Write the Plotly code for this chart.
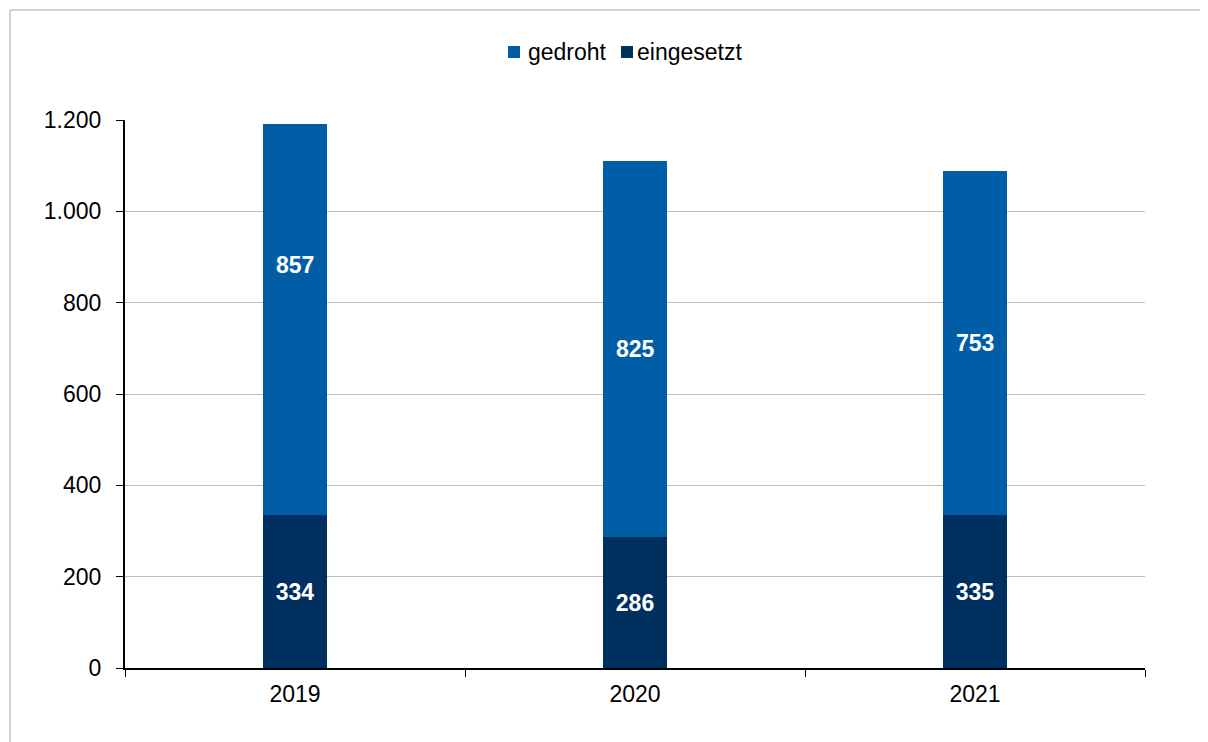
import plotly.graph_objects as go

years = ["2019", "2020", "2021"]
eingesetzt = [334, 286, 335]
gedroht = [857, 825, 753]
y_ticks = [0, 200, 400, 600, 800, 1000, 1200]
# vertical nudge of the "gedroht" value labels (data units), as in the original
gedroht_label_shift = [120, 0, 0]

c_gedroht = "#005DA6"
c_eingesetzt = "#00305F"
font_family = "Liberation Sans, Arial, sans-serif"
FS = 23

fig = go.Figure()
fig.add_trace(go.Bar(
    x=years, y=eingesetzt, name="eingesetzt", marker_color=c_eingesetzt,
    text=eingesetzt, textposition="inside", insidetextanchor="middle",
    textfont=dict(color="white", size=FS, family=font_family, weight="bold"),
    width=0.19, marker_line_width=0, showlegend=False,
))
fig.add_trace(go.Bar(
    x=years, y=gedroht, name="gedroht", marker_color=c_gedroht,
    textposition="none",
    width=0.19, marker_line_width=0, showlegend=False,
))

# page is offset by the 8px body margin
OFF = 8
W, H = 1208 - OFF, 742 - OFF
l, r, t, b = 125 - OFF, 63, 120 - OFF, 74
PL, PR, PT, PB = 125, 1145, 120, 668  # plot area in page pixels


def px_x(p):
    return (p - PL) / (PR - PL)


def px_y(p):
    return (PB - p) / (PB - PT)


shapes = [dict(
    type="rect", xref="paper", yref="paper",
    x0=px_x(10), y0=px_y(760), x1=px_x(1230), y1=px_y(10),
    line=dict(color="#A6A6A6", width=1), fillcolor="rgba(0,0,0,0)", layer="below",
)]
annotations = []
legend_items = [("gedroht", c_gedroht, 508, 526), ("eingesetzt", c_eingesetzt, 621, 635)]
for name, col, sx, tx in legend_items:
    shapes.append(dict(type="rect", xref="paper", yref="paper",
                       x0=px_x(sx), x1=px_x(sx + 12), y0=px_y(58), y1=px_y(46),
                       line=dict(width=0), fillcolor=col))
    annotations.append(dict(text=name, xref="paper", yref="paper", x=px_x(tx), y=px_y(52),
                            xanchor="left", yanchor="middle", showarrow=False,
                            font=dict(size=FS, color="black", family=font_family)))

for i, (base, val, shift) in enumerate(zip(eingesetzt, gedroht, gedroht_label_shift)):
    annotations.append(dict(text=f"{val:,}".replace(",", "."), x=i, y=base + val / 2 + shift,
                            xref="x", yref="y", showarrow=False,
                            xanchor="center", yanchor="middle",
                            font=dict(size=FS, color="white", family=font_family, weight="bold")))

fig.update_layout(
    width=W, height=H,
    barmode="stack",
    separators=",.",
    paper_bgcolor="white", plot_bgcolor="white",
    margin=dict(l=l, r=r, t=t, b=b),
    font=dict(family=font_family, size=FS, color="black"),
    showlegend=False,
    xaxis=dict(
        type="category", categoryorder="array", categoryarray=years,
        range=[-0.5, len(years) - 0.5],
        showline=True, linecolor="black", linewidth=2,
        ticks="outside", tickson="boundaries", ticklen=7, tickcolor="black",
        tickfont=dict(size=FS), showgrid=False, ticklabelstandoff=4,
    ),
    yaxis=dict(
        range=[0, 1200], tickvals=y_ticks, tickformat=",d",
        showline=True, linecolor="black", linewidth=2,
        ticks="outside", ticklen=7, tickcolor="black",
        showgrid=True, gridcolor="#BFBFBF", gridwidth=1,
        tickfont=dict(size=FS), zeroline=False, ticklabelstandoff=10,
    ),
    shapes=shapes,
    annotations=annotations,
)

fig.write_html("out.html")
